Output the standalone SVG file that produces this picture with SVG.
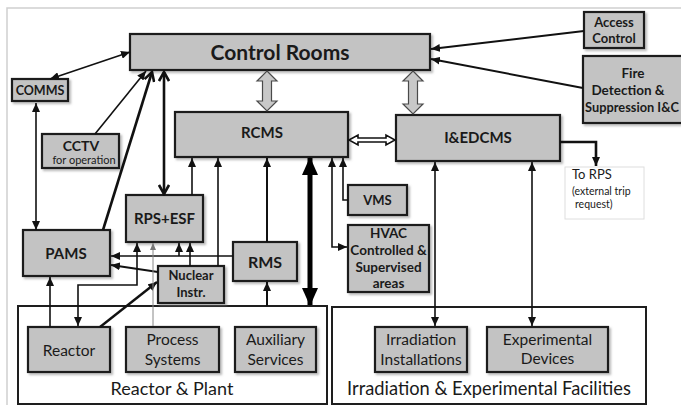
<svg xmlns="http://www.w3.org/2000/svg" width="681" height="405" viewBox="0 0 681 405">
<defs>
<filter id="sh" x="-10%" y="-10%" width="130%" height="140%">
<feDropShadow dx="2" dy="2" stdDeviation="1.2" flood-color="#777" flood-opacity="0.5"/>
</filter>
<marker id="a" markerUnits="userSpaceOnUse" viewBox="0 0 9 8" refX="9" refY="4" markerWidth="9" markerHeight="8" orient="auto-start-reverse">
<path d="M0,0 L9,4 L0,8 z" fill="#111"/>
</marker>
<marker id="g" markerUnits="userSpaceOnUse" viewBox="0 0 7 6" refX="7" refY="3" markerWidth="7" markerHeight="6" orient="auto-start-reverse">
<path d="M0,0 L7,3 L0,6 z" fill="#777"/>
</marker>
<marker id="v" markerUnits="userSpaceOnUse" viewBox="0 0 12 12" refX="10" refY="6" markerWidth="12" markerHeight="12" orient="auto-start-reverse">
<path d="M1,1 L10,6 L1,11" fill="none" stroke="#111" stroke-width="2.6"/>
</marker>
<marker id="big" markerUnits="userSpaceOnUse" viewBox="0 0 18 16" refX="17" refY="8" markerWidth="18" markerHeight="16" orient="auto-start-reverse">
<path d="M0,0 L18,8 L0,16 z" fill="#000"/>
</marker>
<style>
.box{fill:#c3c3c3;stroke:#1e1e1e;stroke-width:2.2;filter:url(#sh)}
.cont{fill:#fff;stroke:#1e1e1e;stroke-width:2}
.t{font-family:Lato,"Liberation Sans",sans-serif;fill:#1a1a1a;text-anchor:middle}
.s{text-anchor:start}
.b{font-weight:bold}
.c{fill:none;stroke:#111;stroke-width:1.6}
.k{fill:none;stroke:#111;stroke-width:2.6}
</style>
</defs>
<rect x="0" y="0" width="681" height="405" fill="#fff"/>
<rect x="7" y="8" width="690" height="410" fill="none" stroke="#cfcfcf" stroke-width="1.5"/>

<g id="reactor-plant">
<rect class="cont" x="18" y="306" width="309" height="98"/>
<text class="t" x="172" y="395" font-size="18">Reactor &amp; Plant</text>
</g>
<g id="irradiation-facilities">
<rect class="cont" x="332" y="307" width="314" height="97"/>
<text class="t" x="489" y="395" font-size="18.3">Irradiation &amp; Experimental Facilities</text>
</g>

<g id="control-rooms"><rect class="box" x="130" y="34" width="300" height="36"/><text class="t b" x="280" y="59.5" font-size="21">Control Rooms</text></g>
<g id="comms"><rect class="box" x="12" y="79" width="56" height="22"/><text class="t b" x="40" y="94.5" font-size="12.5">COMMS</text></g>
<g id="cctv"><rect class="box" x="42" y="134" width="77" height="34"/><text class="t b" x="81" y="151" font-size="14">CCTV</text><text class="t" x="84" y="164" font-size="11">for operation</text></g>
<g id="pams"><rect class="box" x="23" y="230" width="87" height="46"/><text class="t b" x="66" y="258.5" font-size="15">PAMS</text></g>
<g id="rps-esf"><rect class="box" x="126" y="195" width="77" height="47"/><text class="t b" x="164.5" y="224" font-size="15">RPS+ESF</text></g>
<g id="rcms"><rect class="box" x="175" y="112" width="173" height="45"/><text class="t b" x="262" y="138" font-size="15">RCMS</text></g>
<g id="iedcms"><rect class="box" x="396" y="115" width="164" height="46"/><text class="t b" x="478" y="143" font-size="15">I&amp;EDCMS</text></g>
<g id="access-control"><rect class="box" x="584" y="12" width="60" height="36"/><text class="t b" x="614" y="26.5" font-size="13">Access</text><text class="t b" x="614" y="43" font-size="13">Control</text></g>
<g id="fire-detection"><rect class="box" x="583" y="56" width="110" height="67"/><text class="t b" x="633" y="78" font-size="13.5">Fire</text><text class="t b" x="628" y="95" font-size="13.5">Detection &amp;</text><text class="t b" x="632" y="112" font-size="12.8">Suppression I&amp;C</text></g>
<g id="to-rps"><rect x="565" y="167" width="79" height="52" fill="#fff" stroke="#dedede" stroke-width="1"/><text class="t s" x="572" y="179" font-size="13">To RPS</text><text class="t s" x="572" y="195" font-size="10.5">(external trip</text><text class="t s" x="575" y="208" font-size="10.5">request)</text></g>
<g id="vms"><rect class="box" x="348" y="185" width="59" height="30"/><text class="t b" x="377.5" y="205" font-size="13">VMS</text></g>
<g id="hvac"><rect class="box" x="348" y="225" width="81" height="67"/><text class="t b" x="388.5" y="237.5" font-size="13.5">HVAC</text><text class="t b" x="388.5" y="254.5" font-size="13.5">Controlled &amp;</text><text class="t b" x="388.5" y="271.5" font-size="13.5">Supervised</text><text class="t b" x="388.5" y="288" font-size="13.5">areas</text></g>
<g id="rms"><rect class="box" x="233" y="242" width="64" height="39"/><text class="t b" x="265" y="267.5" font-size="16">RMS</text></g>
<g id="nuclear-instr"><rect class="box" x="158" y="266" width="66" height="37"/><text class="t b" x="191" y="280" font-size="13">Nuclear</text><text class="t b" x="191" y="297" font-size="13">Instr.</text></g>
<g id="reactor"><rect class="box" x="28" y="327" width="82" height="45"/><text class="t" x="69" y="355.5" font-size="15.5">Reactor</text></g>
<g id="process-systems"><rect class="box" x="126" y="327" width="93" height="45"/><text class="t" x="172.5" y="344.5" font-size="15.5">Process</text><text class="t" x="172.5" y="364.5" font-size="15.5">Systems</text></g>
<g id="auxiliary-services"><rect class="box" x="235" y="327" width="81" height="45"/><text class="t" x="275.5" y="344.5" font-size="15.5">Auxiliary</text><text class="t" x="275.5" y="364.5" font-size="15.5">Services</text></g>
<g id="irradiation-installations"><rect class="box" x="375" y="327" width="92" height="45"/><text class="t" x="421" y="344.5" font-size="15.5">Irradiation</text><text class="t" x="421" y="364.5" font-size="15.5">Installations</text></g>
<g id="experimental-devices"><rect class="box" x="487" y="327" width="121" height="45"/><text class="t" x="547.5" y="344.5" font-size="15.5">Experimental</text><text class="t" x="547.5" y="364" font-size="15.5">Devices</text></g>

<g id="connectors">
<line class="c" x1="50" y1="79" x2="130" y2="52" marker-start="url(#a)" marker-end="url(#a)"/>
<line class="c" x1="36" y1="103" x2="36" y2="230" marker-start="url(#a)" marker-end="url(#a)"/>
<line class="c" x1="95" y1="134" x2="146" y2="71" marker-end="url(#a)"/>
<line class="k" x1="103" y1="230" x2="152" y2="72" marker-end="url(#v)"/>
<line class="k" x1="164" y1="72" x2="164" y2="194" marker-start="url(#v)" marker-end="url(#v)"/>
<line class="c" style="stroke-width:2" x1="584" y1="31" x2="431" y2="49" marker-end="url(#a)"/>
<line class="c" style="stroke-width:2" x1="583" y1="88" x2="431" y2="59" marker-end="url(#a)"/>
<path d="M267,71 L277,81 L271.5,81 L271.5,101 L277,101 L267,111 L257,101 L262.5,101 L262.5,81 L257,81 Z" fill="#c8c8c8" stroke="#4a4a4a" stroke-width="1.2"/>
<path d="M413,71 L423,81 L417.5,81 L417.5,104 L423,104 L413,114 L403,104 L408.5,104 L408.5,81 L403,81 Z" fill="#c8c8c8" stroke="#4a4a4a" stroke-width="1.2"/>
<path d="M349,140 L358,135 L358,138 L386,138 L386,135 L395,140 L386,145 L386,142 L358,142 L358,145 Z" fill="#fff" stroke="#111" stroke-width="1.6"/>
<line class="c" x1="192" y1="195" x2="192" y2="158" marker-end="url(#a)"/>
<line class="c" x1="218" y1="266" x2="218" y2="158" marker-end="url(#a)"/>
<line class="c" style="stroke-width:2" x1="267" y1="242" x2="267" y2="158" marker-end="url(#a)"/>
<line x1="310" y1="158" x2="310" y2="305" stroke="#000" stroke-width="5" marker-start="url(#big)" marker-end="url(#big)"/>
<path class="c" d="M348,200 H343 V158" marker-end="url(#a)"/>
<path class="c" d="M332,158 V247 H347" marker-start="url(#a)" marker-end="url(#a)"/>
<line class="c" x1="435" y1="162" x2="435" y2="326" marker-start="url(#a)" marker-end="url(#a)"/>
<line class="c" x1="532" y1="162" x2="532" y2="326" marker-start="url(#a)" marker-end="url(#a)"/>
<path class="k" d="M560,142 H596 V166" marker-end="url(#a)"/>
<line class="c" style="stroke-width:2" x1="267" y1="306" x2="267" y2="282" marker-end="url(#a)"/>
<line class="c" x1="233" y1="256" x2="111" y2="256" marker-end="url(#a)"/>
<line class="c" x1="179" y1="256" x2="179" y2="243" marker-end="url(#a)"/>
<line class="c" x1="190" y1="266" x2="190" y2="243" marker-end="url(#a)"/>
<line class="c" style="stroke-width:2.2" x1="158" y1="272" x2="111" y2="265" marker-end="url(#a)"/>
<line class="c" style="stroke-width:2.4" x1="100" y1="327" x2="157" y2="282" marker-end="url(#a)"/>
<line class="c" x1="50" y1="327" x2="50" y2="277" marker-end="url(#a)"/>
<path class="c" d="M137,243 V285 H78 V326" marker-start="url(#a)" marker-end="url(#a)"/>
<line x1="153" y1="326" x2="153" y2="243" stroke="#888" stroke-width="1" marker-end="url(#g)"/>
</g>
</svg>
